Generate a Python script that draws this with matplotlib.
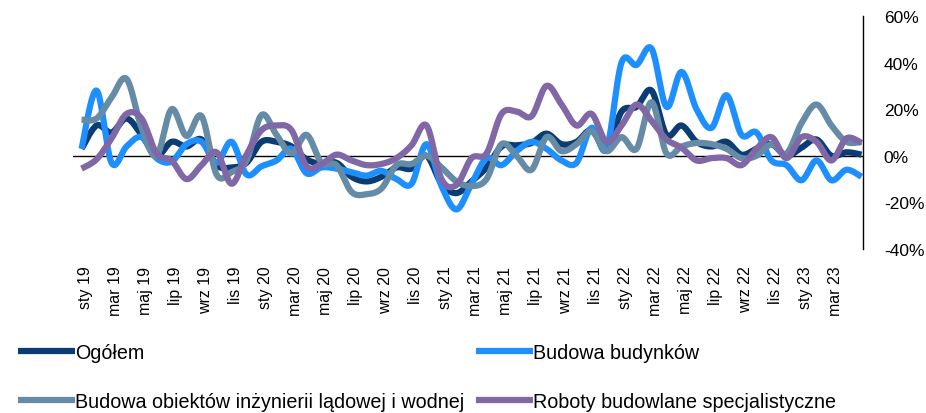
import numpy as np
import matplotlib
matplotlib.use("Agg")
import matplotlib.pyplot as plt
from matplotlib.transforms import ScaledTranslation

plt.rcParams['font.family'] = ['Liberation Sans', 'DejaVu Sans']

month_abbr = ['sty', 'lut', 'mar', 'kwi', 'maj', 'cze', 'lip', 'sie', 'wrz', 'paź', 'lis', 'gru']
years = ['19', '20', '21', '22', '23']
categories = [f"{m} {y}" for y in years for m in month_abbr][:53]

ogolem = [3, 13, 10, 16, 9, 0, 6, 4, 7, -4, -5, -3, 6,
          6, 4, -1.5, -3.5, -3, -9, -11, -9, -5, -5.5, 0, -12, -16, -11,
          -5, 4, 4.5, 5.5, 9.5, 5, 6, 11, 3, 19, 21, 28,
          9, 13, 6, 4, 6, 0.5, 3, 5, 0, 3.5, 7, 0, 1.5, 0.5]
budynki = [3, 28, -3, 4, 8, -1, -2.5, 5, 6, -3, 6, -8, -4.5,
           -2, 3, -7.5, -5, -5.5, -7, -8.5, -6.5, -10, -12, 5, -13, -23, -12,
           -1, -4, 2, 6, 3, -2, -3, 12, 3, 40, 39, 46,
           21, 36, 20, 12, 26, 9, 10, -2, -4, -10.5, -2, -10.5, -6, -9]
inzynieria = [15.5, 16, 25, 33, 12, 0, 20, 8.5, 17, -8, -7, -2, 17.5,
              9, 1, 9, -3, -4, -15.5, -16.5, -14, -4, -3.5, 0, -5, -11, -13,
              -10, 5, 0, -6, 8, 2, 5, 10.5, 2, 8, 3, 23,
              1, 4, 5.5, 5, 3, -1, 0, 5, 1, 14, 22, 13, 6, 6]
roboty = [-5.5, -1.5, 7.5, 18, 16, 1, -2, -10, -4, 1.5, -12, 0.5, 11,
          13, 11, -4.5, -3.5, 0.5, -2, -4, -3.5, -1, 4.5, 13, -10, -12.5, -1,
          1, 18, 19, 17, 30, 22, 13, 18, 6, 13, 22, 15,
          7, 3.5, -2, -1, -1, -4, 3, 8, -1, 8, 6, -2, 7.5, 5.5]

series_names = ['Ogółem', 'Budowa budynków',
                'Budowa obiektów inżynierii lądowej i wodnej',
                'Roboty budowlane specjalistyczne']
colors = ['#0B3D74', '#1E8FFF', '#658BA6', '#8067A6']

y_ticks = [60, 40, 20, 0, -20, -40]
y_tick_labels = ['60%', '40%', '20%', '0%', '-20%', '-40%']


def smooth(x, y, n=20):
    """Catmull-Rom (Excel-like) smoothing through the data points."""
    x = np.asarray(x, float)
    y = np.asarray(y, float)
    px = np.concatenate([[x[0]], x, [x[-1]]])
    py = np.concatenate([[y[0]], y, [y[-1]]])
    xs, ys = [], []
    t = np.linspace(0, 1, n, endpoint=False)
    for i in range(1, len(px) - 2):
        p0x, p1x, p2x, p3x = px[i - 1], px[i], px[i + 1], px[i + 2]
        p0y, p1y, p2y, p3y = py[i - 1], py[i], py[i + 1], py[i + 2]
        c1x = p1x + (p2x - p0x) / 6
        c1y = p1y + (p2y - p0y) / 6
        c2x = p2x - (p3x - p1x) / 6
        c2y = p2y - (p3y - p1y) / 6
        b0 = (1 - t) ** 3
        b1 = 3 * (1 - t) ** 2 * t
        b2 = 3 * (1 - t) * t ** 2
        b3 = t ** 3
        xs.append(b0 * p1x + b1 * c1x + b2 * c2x + b3 * p2x)
        ys.append(b0 * p1y + b1 * c1y + b2 * c2y + b3 * p2y)
    xs.append([x[-1]])
    ys.append([y[-1]])
    return np.concatenate(xs), np.concatenate(ys)


fig = plt.figure(figsize=(9.26, 4.14), dpi=100)
ax = fig.add_axes([73 / 926, 1 - 250 / 414, 790 / 926, 233 / 414])

x = np.arange(len(categories))
ax.axhline(0, color='black', lw=1.0, zorder=1)

handles = []
for vals, name, c in zip([ogolem, budynki, inzynieria, roboty], series_names, colors):
    sx, sy = smooth(x, vals)
    h, = ax.plot(sx, sy, color=c, lw=4.5, solid_capstyle='butt',
                 solid_joinstyle='round', label=name, zorder=2)
    handles.append(h)

ax.set_xlim(-0.57, 52.1)
ax.set_ylim(-40, 60)

for s in ['left', 'top', 'bottom']:
    ax.spines[s].set_visible(False)
ax.spines['right'].set_color('black')
ax.spines['right'].set_linewidth(1.0)

ax.yaxis.tick_right()
ax.set_yticks(y_ticks)
ax.set_yticklabels(y_tick_labels, fontsize=12.5)
ax.tick_params(axis='y', length=0, pad=15)

tick_idx = x[0:51:2]
ax.set_xticks(tick_idx)
ax.set_xticklabels([categories[i] for i in tick_idx], rotation=90, fontsize=11.5)
ax.tick_params(axis='x', length=0, pad=12)
off = ScaledTranslation(4 / 100, 0, fig.dpi_scale_trans)
for lbl in ax.get_xticklabels():
    lbl.set_transform(lbl.get_transform() + off)

leg = fig.legend([handles[0], handles[2], handles[1], handles[3]],
                 [series_names[0], series_names[2], series_names[1], series_names[3]],
                 ncol=2, loc='upper left', bbox_to_anchor=(18 / 926, 1 - 344 / 414),
                 frameon=False, fontsize=14.2, handlelength=2.9, handletextpad=0.0,
                 columnspacing=0.6, labelspacing=1.5, borderaxespad=0, borderpad=0)

fig.savefig('out.png', dpi=100)
